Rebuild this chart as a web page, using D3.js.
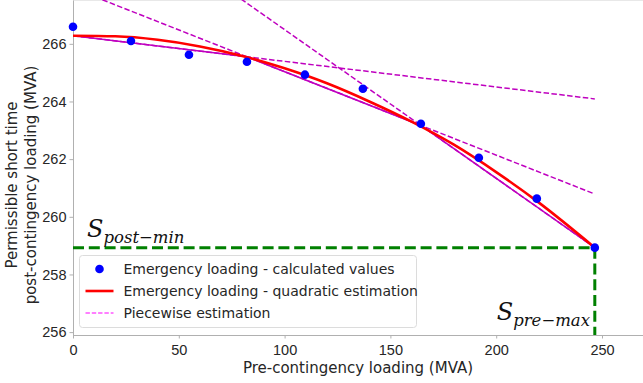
<!DOCTYPE html>
<html>
<head>
<meta charset="utf-8">
<script src="https://cdn.jsdelivr.net/npm/d3@7"></script>
<style>
  body { margin: 0; background: #fff; }
  svg { display: block; font-family: "DejaVu Sans", sans-serif; }
  .tick text { font-size: 14.5px; fill: #262626; }
  .tick line { stroke: #b0b0b0; }
  .domain { stroke: #b0b0b0; }
</style>
</head>
<body>
<svg id="chart" width="643" height="383"></svg>
<script>
// Calculated emergency loading points
const preLoad = [0, 27.4, 54.8, 82.2, 109.6, 137, 164.4, 191.8, 219.2, 246.6];
const postLoad = [266.59, 266.1, 265.62, 265.38, 264.93, 264.44, 263.23, 262.05, 260.63, 258.93];

// Quadratic estimation
const quadX = [0, 20, 40, 60, 80, 100, 120, 140, 160, 180, 200, 220, 246.6];
const quadY = [266.28, 266.26, 266.14, 265.91, 265.58, 265.15, 264.63, 264.0, 263.3, 262.5, 261.55, 260.5, 258.93];

// Piecewise linear nodes
const nodeX = [0, 82.2, 164.4, 246.6];
const nodeY = [266.28, 265.55, 263.17, 258.93];

const xTicks = [0, 50, 100, 150, 200, 250];
const yTicks = [256, 258, 260, 262, 264, 266];

const sPreMax = 246.6;
const sPostMin = 258.93;

const svg = d3.select('#chart');
const plotLeft = 73, plotRight = 644, plotTop = 0, plotBottom = 335;

const x = d3.scaleLinear().domain([0, 270]).range([plotLeft, plotLeft + 270 * 2.116]);
const y = d3.scaleLinear().domain([255.9, 267.52]).range([plotBottom, plotTop]);

svg.append('defs').append('clipPath').attr('id', 'clip')
  .append('rect').attr('x', plotLeft).attr('y', plotTop)
  .attr('width', plotRight - plotLeft).attr('height', plotBottom - plotTop);

// top spine
svg.append('line').attr('x1', plotLeft).attr('x2', 643).attr('y1', 0.5).attr('y2', 0.5)
  .attr('stroke', '#e8e8e8');

// axes
svg.append('g')
  .attr('transform', `translate(0,${plotBottom})`)
  .call(d3.axisBottom(x).tickValues(xTicks).tickSize(3.5).tickPadding(3).tickSizeOuter(0))
  .call(g => g.selectAll('.tick text').attr('dy', '0.9em'));

svg.append('g')
  .attr('transform', `translate(${plotLeft},0)`)
  .call(d3.axisLeft(y).tickValues(yTicks).tickSize(3.5).tickPadding(3).tickSizeOuter(0));

// axis labels
svg.append('text')
  .attr('x', 358).attr('y', 373)
  .attr('text-anchor', 'middle')
  .attr('font-size', 15).attr('fill', '#262626')
  .text('Pre-contingency loading (MVA)');

const yl = svg.append('text')
  .attr('transform', 'translate(17,185) rotate(-90)')
  .attr('text-anchor', 'middle')
  .attr('font-size', 15).attr('fill', '#262626');
yl.append('tspan').attr('x', 0).attr('y', 0).text('Permissible short time');
yl.append('tspan').attr('x', 0).attr('y', 19).text('post-contingency loading (MVA)');

const plot = svg.append('g').attr('clip-path', 'url(#clip)');

// dashed extensions of every piecewise segment
for (let i = 0; i < nodeX.length - 1; i++) {
  const slope = (nodeY[i + 1] - nodeY[i]) / (nodeX[i + 1] - nodeX[i]);
  const x0 = nodeX[0], x1 = nodeX[nodeX.length - 1];
  plot.append('line')
    .attr('x1', x(x0)).attr('y1', y(nodeY[i] + slope * (x0 - nodeX[i])))
    .attr('x2', x(x1)).attr('y2', y(nodeY[i] + slope * (x1 - nodeX[i])))
    .attr('stroke', '#bf00bf').attr('stroke-width', 1.5)
    .attr('stroke-dasharray', '5.5,2.4');
}

// green markers of the limits
plot.append('line')
  .attr('x1', x(0)).attr('x2', x(sPreMax))
  .attr('y1', y(sPostMin)).attr('y2', y(sPostMin))
  .attr('stroke', '#008000').attr('stroke-width', 3)
  .attr('stroke-dasharray', '11,4.8');
plot.append('line')
  .attr('x1', x(sPreMax)).attr('x2', x(sPreMax))
  .attr('y1', y(sPostMin)).attr('y2', plotBottom)
  .attr('stroke', '#008000').attr('stroke-width', 3)
  .attr('stroke-dasharray', '11,4.8');

// piecewise solid
plot.append('path')
  .datum(nodeX.map((d, i) => [d, nodeY[i]]))
  .attr('d', d3.line().x(d => x(d[0])).y(d => y(d[1])))
  .attr('fill', 'none').attr('stroke', '#bf00bf').attr('stroke-width', 1.6);

// quadratic
plot.append('path')
  .datum(quadX.map((d, i) => [d, quadY[i]]))
  .attr('d', d3.line().curve(d3.curveMonotoneX).x(d => x(d[0])).y(d => y(d[1])))
  .attr('fill', 'none').attr('stroke', '#ff0000').attr('stroke-width', 2.6);

// points
svg.append('g').selectAll('circle')
  .data(preLoad.map((d, i) => [d, postLoad[i]]))
  .join('circle')
  .attr('cx', d => x(d[0])).attr('cy', d => y(d[1]))
  .attr('r', 4.3).attr('fill', '#0000ff');

// annotations
function mathLabel(px, py, sub, anchor) {
  const t = svg.append('text')
    .attr('x', px).attr('y', py)
    .attr('text-anchor', anchor)
    .attr('font-family', '"DejaVu Serif", serif')
    .attr('font-style', 'italic').attr('fill', '#111');
  t.append('tspan').attr('font-size', 24).text('S');
  t.append('tspan').attr('font-size', 16.5).attr('dy', 6).text(sub);
}
mathLabel(87, 237, 'post\u2212min', 'start');
mathLabel(590, 320, 'pre\u2212max', 'end');

// legend
const lg = svg.append('g').attr('transform', 'translate(79.5,255.5)');
lg.append('rect').attr('width', 337).attr('height', 72).attr('rx', 3)
  .attr('fill', 'rgba(255,255,255,0.8)').attr('stroke', '#dcdcdc');
const items = [
  { label: 'Emergency loading - calculated values', kind: 'dot' },
  { label: 'Emergency loading - quadratic estimation', kind: 'red' },
  { label: 'Piecewise estimation', kind: 'dash' }
];
items.forEach((it, i) => {
  const cy = 13.5 + i * 22;
  if (it.kind === 'dot') {
    lg.append('circle').attr('cx', 20).attr('cy', cy).attr('r', 4.3).attr('fill', '#0000ff');
  } else if (it.kind === 'red') {
    lg.append('line').attr('x1', 6).attr('x2', 34).attr('y1', cy).attr('y2', cy)
      .attr('stroke', '#ff0000').attr('stroke-width', 2.6);
  } else {
    lg.append('line').attr('x1', 6).attr('x2', 34).attr('y1', cy).attr('y2', cy)
      .attr('stroke', '#ff00ff').attr('stroke-width', 1.2).attr('stroke-dasharray', '4.4,1.9');
  }
  lg.append('text').attr('x', 44).attr('y', cy + 5)
    .attr('font-size', 14).attr('fill', '#262626').text(it.label);
});
</script>
</body>
</html>
